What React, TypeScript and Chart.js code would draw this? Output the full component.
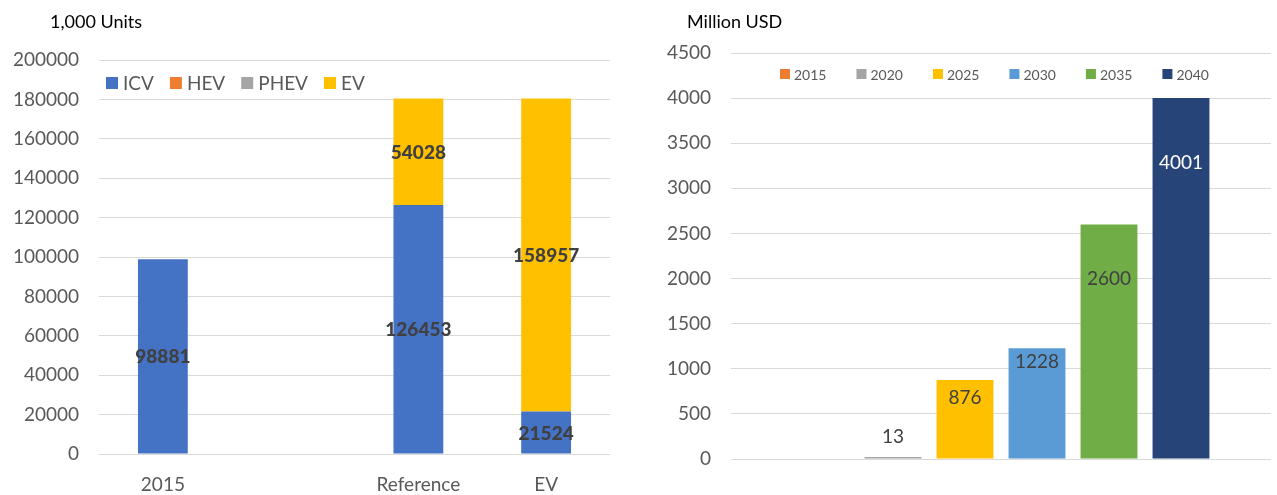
import React, { useEffect, useRef } from 'react';
import { Chart, registerables } from 'chart.js';

Chart.register(...registerables);

// ---------- Data ----------
const unitCategories = ['2015', '', 'Reference', 'EV'];
const unitSeriesNames = ['ICV', 'HEV', 'PHEV', 'EV'];
const icvValues = [98881, 0, 126453, 21524];
const hevValues = [0, 0, 0, 0];
const phevValues = [0, 0, 0, 0];
const evValues = [0, 0, 54028, 158957];
const unitAxisMax = 200000;
const unitAxisStep = 20000;
const unitTitle = '1,000 Units';

const marketYears = ['2015', '2020', '2025', '2030', '2035', '2040'];
const marketValues = [0, 13, 876, 1228, 2600, 4001];
const marketAxisMax = 4500;
const marketAxisStep = 500;
const marketTitle = 'Million USD';

// ---------- Styles ----------
const FONT = 'Lato, "Open Sans", sans-serif';
const AXIS_GRAY = '#595959';
const LABEL_DARK = '#404040';
const GRID = '#d9d9d9';
const unitColors = ['#4472C4', '#ED7D31', '#A5A5A5', '#FFC000'];
const marketColors = ['#ED7D31', '#A5A5A5', '#FFC000', '#5B9BD5', '#70AD47', '#264478'];
const marketLabelColors = [LABEL_DARK, LABEL_DARK, LABEL_DARK, LABEL_DARK, LABEL_DARK, '#FFFFFF'];
// label centre offset from bar top (px, positive = down)
const marketLabelOffsets = [0, -20, 18, 14, 54, 65];

type LegendCfg = { x: number; y: number; box: number; gapBoxText: number; gapItem: number; size: number };

function makeDecorPlugin(title: string, titleX: number, titleY: number, names: string[], colors: string[], lg: LegendCfg) {
  return {
    id: 'decor',
    afterDraw(chart: any) {
      const ctx = chart.ctx;
      ctx.save();
      ctx.fillStyle = '#000000';
      ctx.font = `18px ${FONT}`;
      ctx.textBaseline = 'middle';
      ctx.textAlign = 'left';
      ctx.fillText(title, titleX, titleY);
      // legend
      ctx.font = `${lg.size}px ${FONT}`;
      let x = lg.x;
      names.forEach((n, i) => {
        ctx.fillStyle = colors[i];
        ctx.fillRect(x, lg.y - lg.box / 2, lg.box, lg.box);
        x += lg.box + lg.gapBoxText;
        ctx.fillStyle = AXIS_GRAY;
        ctx.fillText(n, x, lg.y + 1);
        x += ctx.measureText(n).width + lg.gapItem;
      });
      ctx.restore();
    },
  };
}

const stackLabelPlugin = {
  id: 'stackLabels',
  afterDatasetsDraw(chart: any) {
    const ctx = chart.ctx;
    ctx.save();
    ctx.font = `900 19px ${FONT}`;
    ctx.fillStyle = LABEL_DARK;
    ctx.textAlign = 'center';
    ctx.textBaseline = 'middle';
    chart.data.datasets.forEach((ds: any, di: number) => {
      const meta = chart.getDatasetMeta(di);
      meta.data.forEach((el: any, i: number) => {
        const v = ds.data[i];
        if (!v) return;
        const cy = (el.y + el.base) / 2;
        ctx.fillText(String(v), el.x, cy + 1);
      });
    });
    ctx.restore();
  },
};

const marketLabelPlugin = {
  id: 'marketLabels',
  afterDatasetsDraw(chart: any) {
    const ctx = chart.ctx;
    ctx.save();
    ctx.font = `19px ${FONT}`;
    ctx.textAlign = 'center';
    ctx.textBaseline = 'middle';
    chart.data.datasets.forEach((ds: any, di: number) => {
      const meta = chart.getDatasetMeta(di);
      meta.data.forEach((el: any, i: number) => {
        const v = ds.data[i];
        if (!v) return;
        ctx.fillStyle = marketLabelColors[di];
        ctx.fillText(String(v), el.x, el.y + marketLabelOffsets[di]);
      });
    });
    ctx.restore();
  },
};

const plainTick = (v: any) => String(v);

function UnitsChart() {
  const ref = useRef<HTMLCanvasElement>(null);
  useEffect(() => {
    const series = [icvValues, hevValues, phevValues, evValues];
    const chart = new Chart(ref.current as HTMLCanvasElement, {
      type: 'bar',
      data: {
        labels: unitCategories,
        datasets: unitSeriesNames.map((n, i) => ({
          label: n,
          data: series[i],
          backgroundColor: unitColors[i],
          borderWidth: 0,
          categoryPercentage: 1,
          barPercentage: 0.39,
        })),
      },
      options: {
        animation: false,
        responsive: false,
        devicePixelRatio: 1,
        layout: { padding: { left: 0, top: 60, right: 30, bottom: 0 } },
        plugins: { legend: { display: false }, title: { display: false }, tooltip: { enabled: false } },
        scales: {
          x: {
            stacked: true,
            grid: { display: false, drawTicks: false },
            border: { display: false },
            ticks: { color: AXIS_GRAY, font: { family: FONT, size: 19 }, padding: 19, maxRotation: 0, autoSkip: false },
            afterFit: (s: any) => { s.height = 41; },
          },
          y: {
            stacked: true,
            min: 0,
            max: unitAxisMax,
            grid: { color: GRID, lineWidth: 1, drawTicks: false },
            border: { display: false },
            ticks: { stepSize: unitAxisStep, color: AXIS_GRAY, font: { family: FONT, size: 19 }, padding: 20, callback: plainTick },
            afterFit: (s: any) => { s.width = 99; },
          },
        },
      },
      plugins: [
        stackLabelPlugin,
        makeDecorPlugin(unitTitle, 50, 22, unitSeriesNames, unitColors, { x: 106, y: 83, box: 12, gapBoxText: 5, gapItem: 16, size: 19 }),
      ],
    } as any);
    return () => chart.destroy();
  }, []);
  return <canvas ref={ref} width={640} height={495} style={{ position: 'absolute', left: 0, top: 0 }} />;
}

function MarketChart() {
  const ref = useRef<HTMLCanvasElement>(null);
  useEffect(() => {
    const chart = new Chart(ref.current as HTMLCanvasElement, {
      type: 'bar',
      data: {
        labels: [''],
        datasets: marketYears.map((y, i) => ({
          label: y,
          data: [marketValues[i]],
          backgroundColor: marketColors[i],
          borderWidth: 0,
          minBarLength: marketValues[i] > 0 ? 2 : 0,
          categoryPercentage: 0.8,
          barPercentage: 0.79,
        })),
      },
      options: {
        animation: false,
        responsive: false,
        devicePixelRatio: 1,
        layout: { padding: { left: 0, top: 53, right: 6, bottom: 0 } },
        plugins: { legend: { display: false }, title: { display: false }, tooltip: { enabled: false } },
        scales: {
          x: {
            grid: { display: false, drawTicks: false },
            border: { display: false },
            ticks: { display: false },
            afterFit: (s: any) => { s.height = 36; },
          },
          y: {
            min: 0,
            max: marketAxisMax,
            grid: { color: GRID, lineWidth: 1, drawTicks: false },
            border: { display: false },
            ticks: { stepSize: marketAxisStep, color: AXIS_GRAY, font: { family: FONT, size: 19 }, padding: 20, callback: plainTick },
            afterFit: (s: any) => { s.width = 91; },
          },
        },
      },
      plugins: [
        marketLabelPlugin,
        makeDecorPlugin(marketTitle, 47, 22, marketYears, marketColors, { x: 140, y: 74, box: 10, gapBoxText: 4, gapItem: 30, size: 14 }),
      ],
    } as any);
    return () => chart.destroy();
  }, []);
  return <canvas ref={ref} width={637} height={495} style={{ position: 'absolute', left: 640, top: 0 }} />;
}

export default function App() {
  return (
    <div style={{ position: 'absolute', left: 0, top: 0, width: 1277, height: 495, background: '#ffffff', overflow: 'hidden' }}>
      <UnitsChart />
      <MarketChart />
    </div>
  );
}
